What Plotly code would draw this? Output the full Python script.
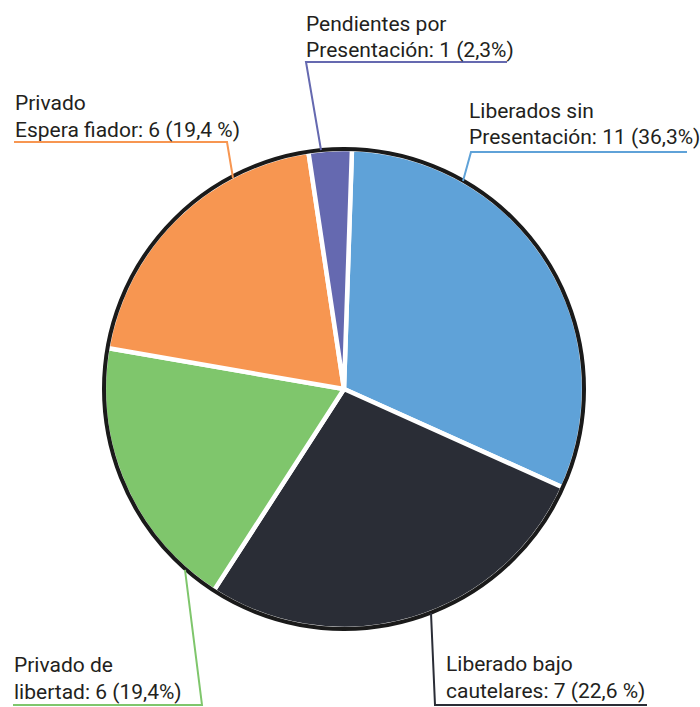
import plotly.graph_objects as go

# ---- data ----
label_line1 = ["Liberados sin", "Liberado bajo", "Privado de", "Privado", "Pendientes por"]
label_line2 = ["Presentación", "cautelares", "libertad", "Espera fiador", "Presentación"]
counts = [11, 7, 6, 6, 1]
pct_text = ["36,3%", "22,6 %", "19,4%", "19,4 %", "2,3%"]
# slice sizes as drawn in the picture (share of the circle, %)
slice_share = [31.2, 27.4, 18.6, 19.9, 2.9]
colors = ["#5fa2d8", "#2a2d36", "#7fc66c", "#f79651", "#6569b0"]

# ---- layout constants (pixels in a 700x707 canvas) ----
W, H = 700, 707
CX, CY, R = 344, 389, 240
FONT = "Roboto, Liberation Sans, sans-serif"
FS = 21
TEXT_COLOR = "#231f20"

# per label: text left x, baseline line1, baseline line2, leader path points
label_pos = [
    dict(x=468, b1=119, b2=145, path=[(687, 152), (471, 152), (463, 181)]),
    dict(x=445, b1=672, b2=699, path=[(647, 705), (435, 705), (431, 613)]),
    dict(x=13, b1=673, b2=700, path=[(13, 705), (202, 705), (185, 570)]),
    dict(x=14, b1=111, b2=138, path=[(14, 142), (227, 142), (233, 178)]),
    dict(x=305, b1=32, b2=58, path=[(507, 62), (306, 62), (321, 150)]),
]


def px(x):
    return x / W


def py(y):
    return 1 - y / H


domain = dict(x=[px(CX - R), px(CX + R)], y=[py(CY + R), py(CY - R)])

fig = go.Figure()
fig.add_trace(go.Pie(
    labels=[a + " " + b for a, b in zip(label_line1, label_line2)],
    values=slice_share,
    sort=False,
    direction="clockwise",
    rotation=1.9,
    marker=dict(colors=colors, line=dict(color="white", width=4.5)),
    textinfo="none",
    hoverinfo="none",
    showlegend=False,
    domain=domain,
))
# outer black rim
fig.add_trace(go.Pie(
    values=[1],
    sort=False,
    marker=dict(colors=["rgba(0,0,0,0)"], line=dict(color="#1a1a1a", width=4)),
    textinfo="none",
    hoverinfo="none",
    showlegend=False,
    domain=domain,
))

annotations = []
shapes = []
DESC = 5
for i, pos in enumerate(label_pos):
    line2 = f"{label_line2[i]}: {counts[i]} ({pct_text[i]})"
    for txt, base in ((label_line1[i], pos["b1"]), (line2, pos["b2"])):
        annotations.append(dict(
            x=px(pos["x"]), y=py(base + DESC), xref="paper", yref="paper",
            xanchor="left", yanchor="bottom", showarrow=False, borderpad=0,
            text=txt, font=dict(family=FONT, size=FS, color=TEXT_COLOR),
        ))
    pts = pos["path"]
    d = "M " + " L ".join(f"{px(x):.5f},{py(y):.5f}" for x, y in pts)
    shapes.append(dict(type="path", path=d, xref="paper", yref="paper",
                       line=dict(color=colors[i], width=2)))

fig.update_layout(
    width=W, height=H,
    margin=dict(l=0, r=0, t=0, b=0),
    paper_bgcolor="white", plot_bgcolor="white",
    annotations=annotations, shapes=shapes,
)
fig.write_html("out.html", config={"displayModeBar": False},
               post_script="document.body.style.margin='0px';")
